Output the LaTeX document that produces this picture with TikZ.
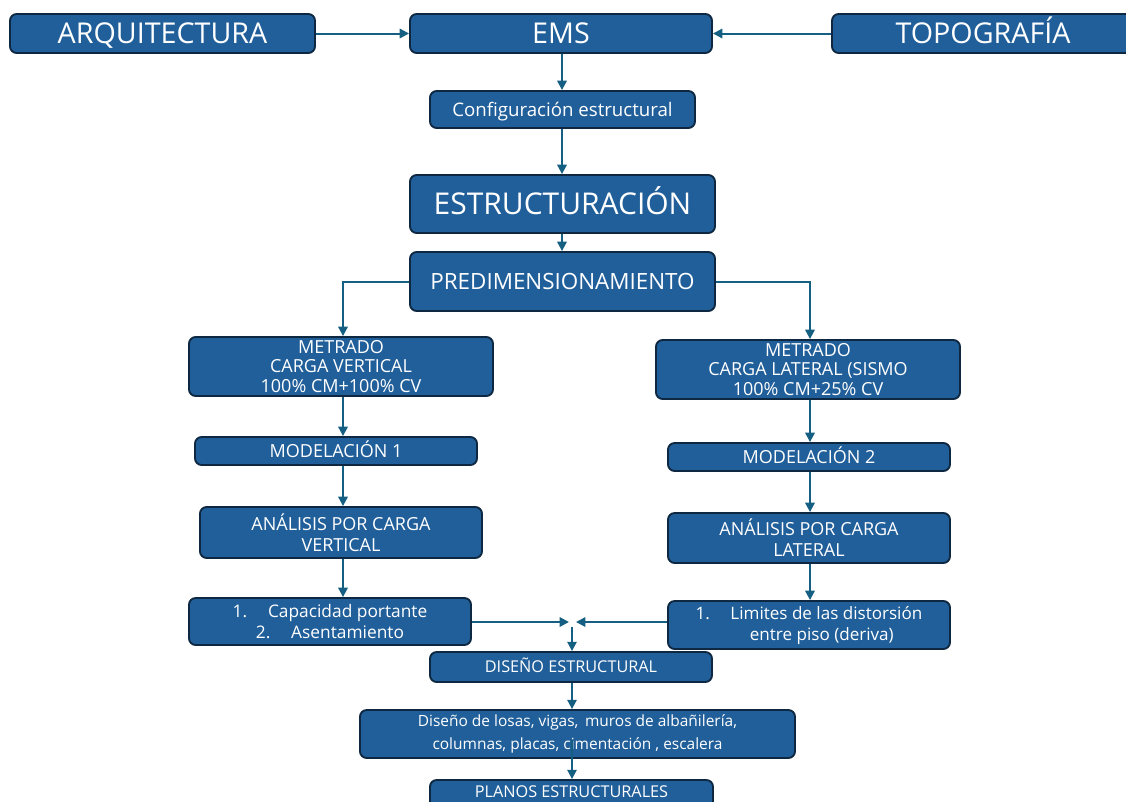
\documentclass[tikz,border=0pt]{standalone}
\usepackage{fontspec}
\setmainfont{Open Sans}
\usetikzlibrary{arrows.meta, calc}

\definecolor{boxblue}{HTML}{215F9A}
\definecolor{boxline}{HTML}{0E2841}
\definecolor{arrowblue}{HTML}{156082}

\tikzset{
  caja/.style={draw=boxline, line width=1.4pt, fill=boxblue, rounded corners=5pt,
    text=white, align=center, inner sep=0pt},
  unalinea/.style={text height=#1*0.714pt, text depth=0pt},
  flecha/.style={draw=arrowblue, line width=1.5pt, -{Triangle[length=7pt, width=7pt]}},
  linea/.style={draw=arrowblue, line width=1.5pt}
}

\begin{document}
\begin{tikzpicture}[x=0.75pt, y=-0.75pt]
                  \useasboundingbox[fill=white] (0,0) rectangle (1126,801);

                  % fila superior
                  \node[caja, unalinea=21.5, minimum width=305*0.75pt, minimum height=39*0.75pt, font=\fontsize{21.5}{24}\selectfont] (arq) at (162.5, 33.5) {ARQUITECTURA};
                  \node[caja, unalinea=21.5, minimum width=302*0.75pt, minimum height=39*0.75pt, font=\fontsize{21.5}{24}\selectfont] (ems) at (561, 33.5) {EMS};
                  \node[caja, unalinea=21.5, minimum width=302*0.75pt, minimum height=39*0.75pt, font=\fontsize{21.5}{24}\selectfont] (topo) at (983, 33.5) {TOPOGRAFÍA};

                  \node[caja, unalinea=14, minimum width=265*0.75pt, minimum height=37*0.75pt, font=\fontsize{14}{17}\selectfont] (conf) at (562.5, 109.5) {Configuración estructural};
                  \node[caja, unalinea=22.5, minimum width=305*0.75pt, minimum height=58*0.75pt, font=\fontsize{22.5}{26}\selectfont] (estr) at (562.5, 204) {ESTRUCTURACIÓN};
                  \node[caja, unalinea=16.8, minimum width=305*0.75pt, minimum height=59*0.75pt, font=\fontsize{16.8}{20}\selectfont] (pred) at (562.5, 281.5) {PREDIMENSIONAMIENTO};

                  % rama vertical
                  \node[caja, minimum width=304*0.75pt, minimum height=59*0.75pt, font=\fontsize{13.5}{14.3}\selectfont] (metv) at (341, 366.5) {METRADO\\CARGA VERTICAL\\100\% CM+100\% CV};
                  \node[caja, unalinea=13.5, minimum width=282*0.75pt, minimum height=28*0.75pt, font=\fontsize{13.5}{15}\selectfont] (mod1) at (336, 451) {MODELACIÓN 1};
                  \node[caja, minimum width=282*0.75pt, minimum height=51*0.75pt, font=\fontsize{13.5}{15.75}\selectfont] (anv) at (341, 532.5) {ANÁLISIS POR CARGA\\VERTICAL};
                  \node[caja, minimum width=282*0.75pt, minimum height=47*0.75pt, font=\fontsize{13}{15.75}\selectfont] (cap) at (330, 621.5) {1.\hspace{1.2em}Capacidad portante\\2.\hspace{1.2em}Asentamiento};

                  % rama lateral
                  \node[caja, minimum width=304*0.75pt, minimum height=59*0.75pt, font=\fontsize{13.5}{14.3}\selectfont] (metl) at (808, 369.5) {METRADO\\CARGA LATERAL (SISMO\\100\% CM+25\% CV};
                  \node[caja, unalinea=13.5, minimum width=282*0.75pt, minimum height=28*0.75pt, font=\fontsize{13.5}{15}\selectfont] (mod2) at (809, 457) {MODELACIÓN 2};
                  \node[caja, minimum width=282*0.75pt, minimum height=50*0.75pt, font=\fontsize{13.5}{15.75}\selectfont] (anl) at (809, 538) {ANÁLISIS POR CARGA\\LATERAL};
                  \node[caja, minimum width=282*0.75pt, minimum height=48*0.75pt, font=\fontsize{12.8}{15.75}\selectfont] (lim) at (809, 625) {1.\hspace{1.2em}Limites de las distorsión\\\hspace{1.5em}entre piso (deriva)};

                  % diseno
                  \node[caja, unalinea=12.2, minimum width=282*0.75pt, minimum height=30*0.75pt, font=\fontsize{12.2}{14}\selectfont] (dis) at (571, 667) {DISEÑO ESTRUCTURAL};
                  \node[caja, minimum width=435*0.75pt, minimum height=48*0.75pt, font=\fontsize{11.6}{17}\selectfont] (los) at (577.5, 734) {Diseño de losas, vigas,\, muros de albañilería,\\columnas, placas, cimentación , escalera};
                  \node[caja, minimum width=283*0.75pt, minimum height=40*0.75pt, font=\fontsize{12.2}{14}\selectfont, text height=12.2*0.714pt, text depth=16*0.75pt] (plan) at (571.5, 800) {PLANOS ESTRUCTURALES};

                  \coordinate (jl) at (343, 0);
                  \coordinate (jr) at (810, 0);
                  \coordinate (jc) at (562, 0);
                  \coordinate (jd) at (572, 0);
                  \coordinate (mi) at (569, 622);
                  \coordinate (md) at (576, 622);
                  \coordinate (mb) at (572, 627);

                  \draw[flecha] (arq.east) -- (ems.west);
                  \draw[flecha] (topo.west) -- (ems.east);
                  \draw[flecha] (ems.south -| jc) -- (conf.north -| jc);
                  \draw[flecha] (conf.south -| jc) -- (estr.north -| jc);
                  \draw[flecha] (estr.south -| jc) -- (pred.north -| jc);

                  \draw[flecha] (pred.west) -| (jl |- metv.north);
                  \draw[flecha] (pred.east) -| (jr |- metl.north);

                  \foreach \a/\b in {metv/mod1, mod1/anv, anv/cap}
                  \draw[flecha] (\a.south -| jl) -- (\b.north -| jl);
                  \foreach \a/\b in {metl/mod2, mod2/anl, anl/lim}
                  \draw[flecha] (\a.south -| jr) -- (\b.north -| jr);

                  \draw[flecha] (cap.east |- mi) -- (mi);
                  \draw[flecha] (lim.west |- md) -- (md);
                  \draw[flecha] (mb) -- (dis.north -| mb);
                  \draw[flecha] (dis.south -| jd) -- (los.north -| jd);
                  \draw[flecha] (jd |- 0,740) -- (plan.north -| jd);
              \end{tikzpicture}
\end{document}
